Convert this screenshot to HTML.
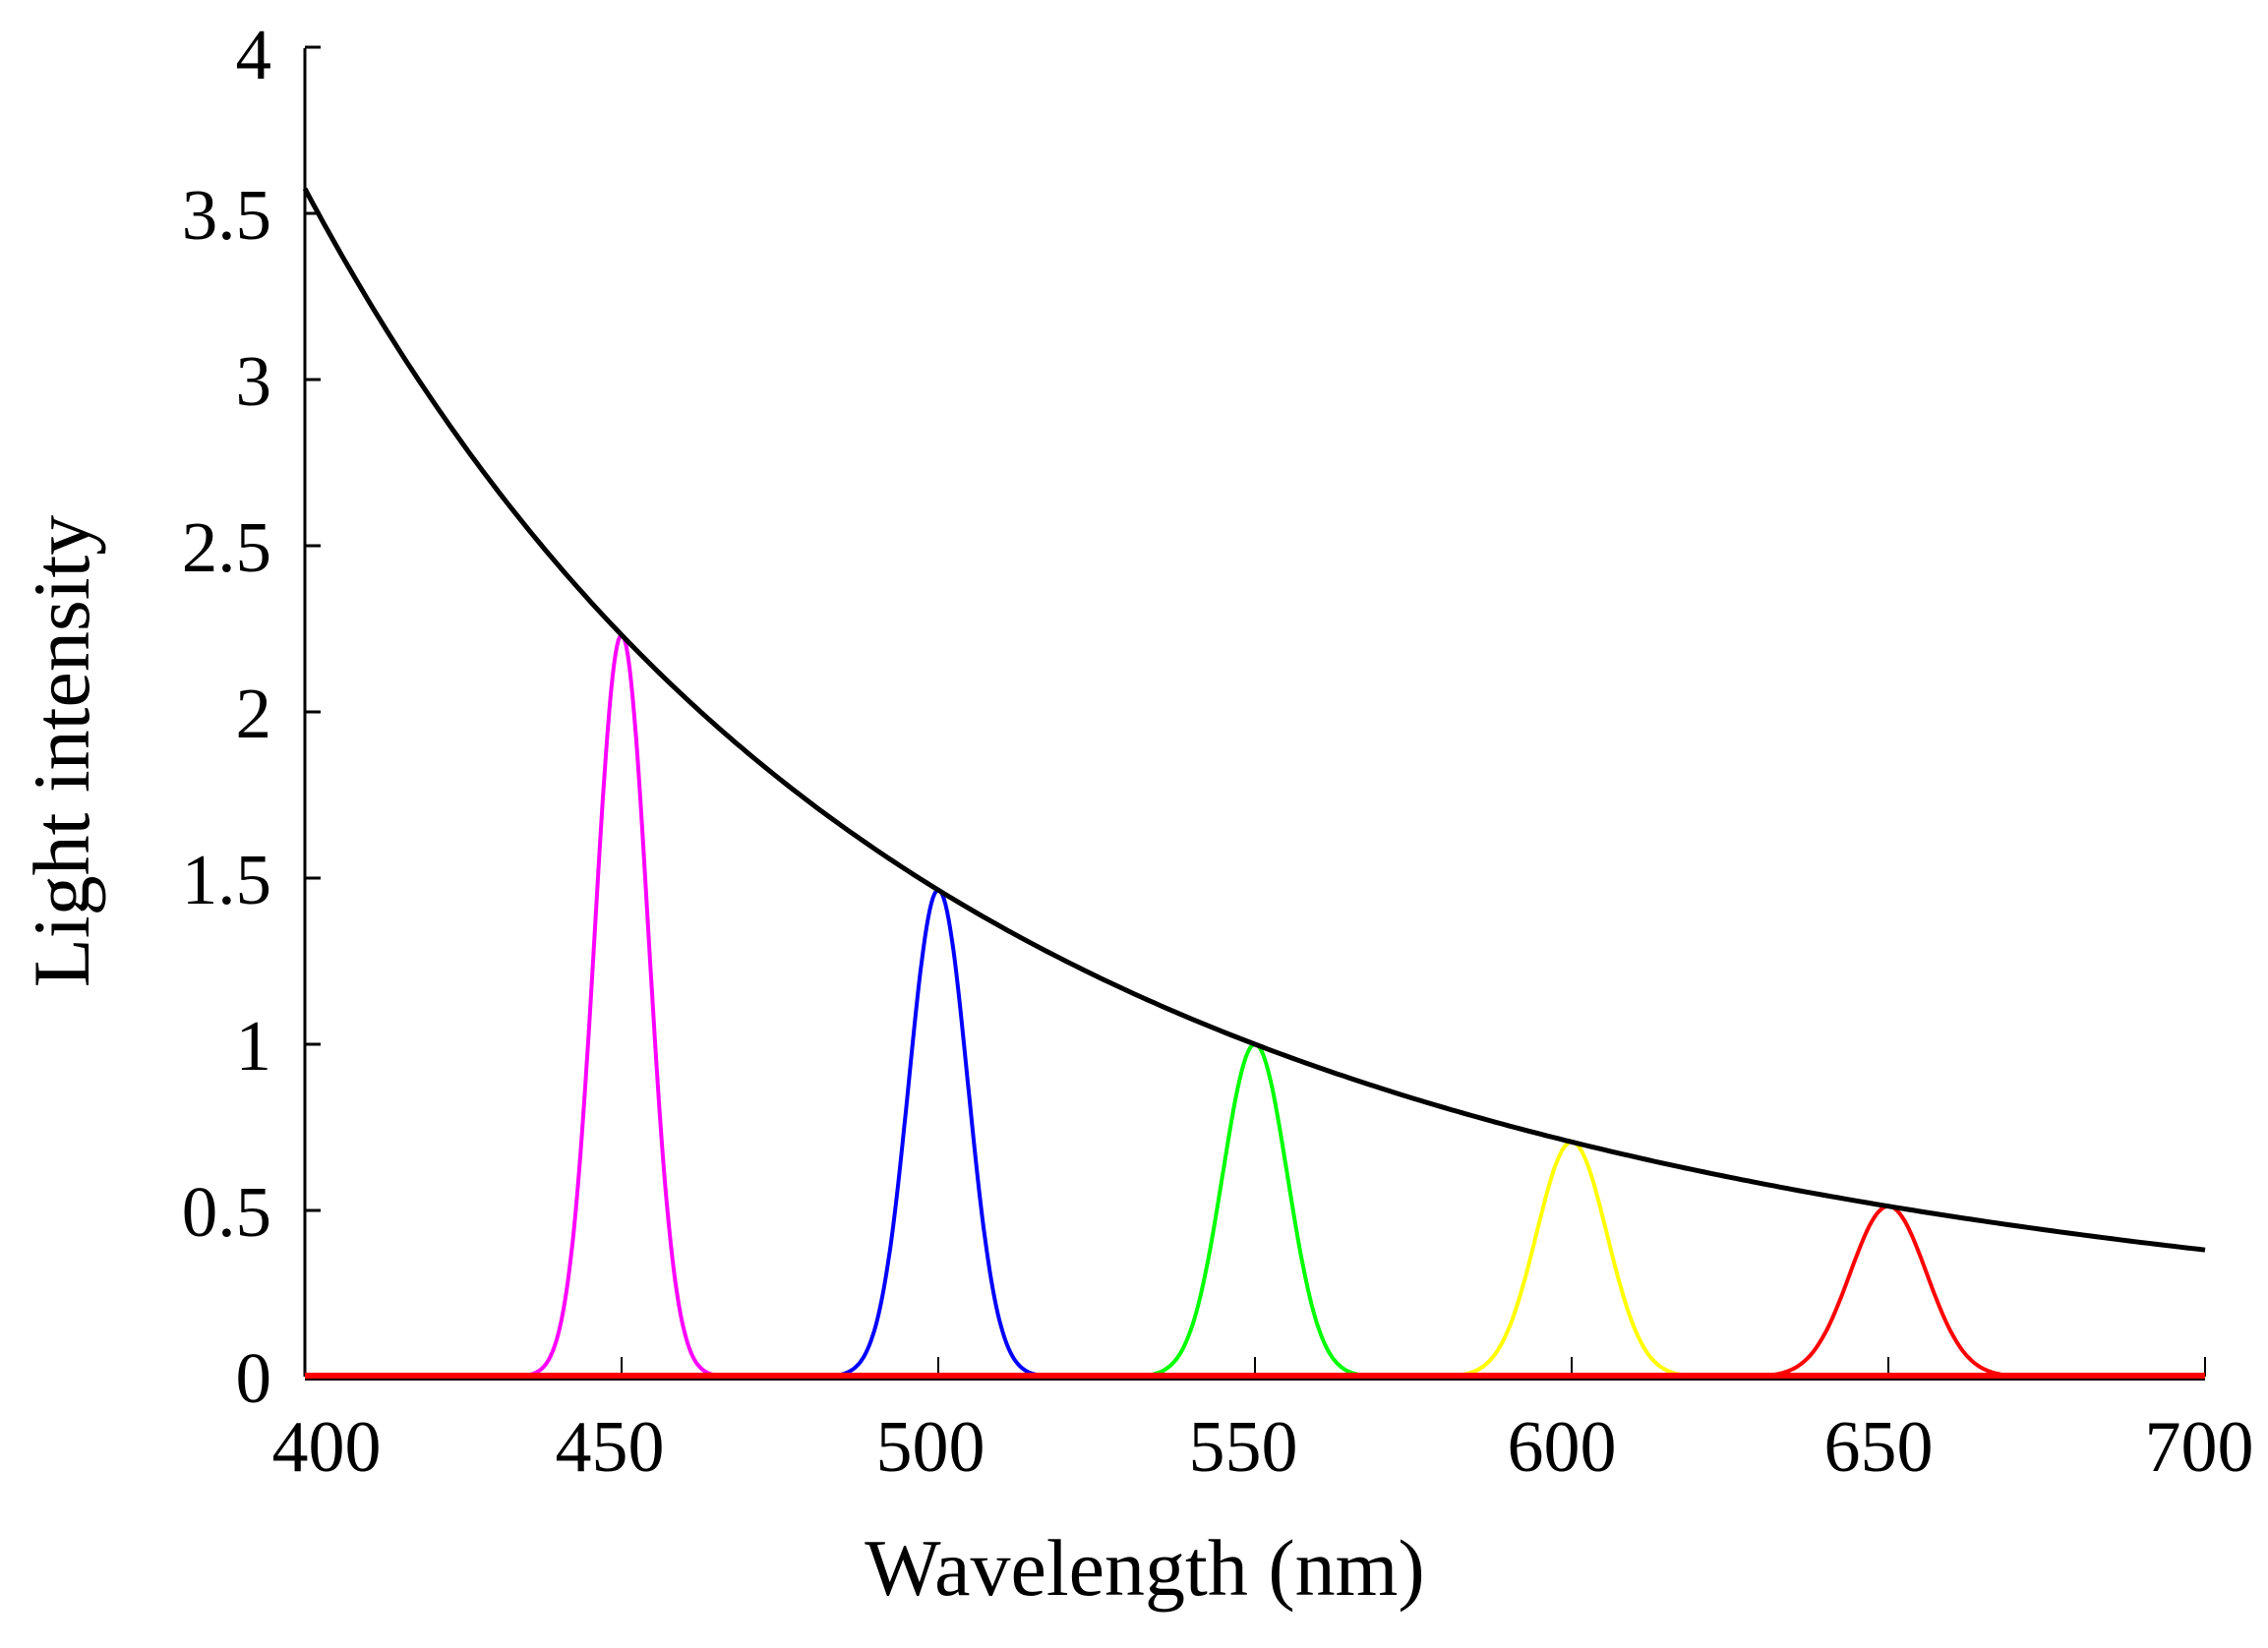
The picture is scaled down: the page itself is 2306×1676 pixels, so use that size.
<!DOCTYPE html>
<html><head><meta charset="utf-8"><style>
html,body{margin:0;padding:0;background:#fff;}
svg{display:block;}
text{font-family:"Liberation Serif",serif;fill:#000;}
</style></head><body>
<svg id="s" width="2306" height="1676" viewBox="0 0 2306 1676" xmlns="http://www.w3.org/2000/svg">
<g id="g"></g>
<g font-size="73" text-anchor="end">
<text x="276" y="1426">0</text>
<text x="276" y="1257">0.5</text>
<text x="276" y="1088">1</text>
<text x="276" y="919">1.5</text>
<text x="276" y="750">2</text>
<text x="276" y="581">2.5</text>
<text x="276" y="412">3</text>
<text x="276" y="243">3.5</text>
<text x="276" y="80">4</text>
</g>
<g font-size="74" text-anchor="middle">
<text x="332" y="1496">400</text>
<text x="620" y="1496">450</text>
<text x="946" y="1496">500</text>
<text x="1264" y="1496">550</text>
<text x="1588" y="1496">600</text>
<text x="1910" y="1496">650</text>
<text x="2236" y="1496">700</text>
</g>
<text x="1164" y="1622" font-size="82" text-anchor="middle">Wavelength (nm)</text>
<text transform="translate(90,764) rotate(-90)" font-size="82" text-anchor="middle">Light intensity</text>
</svg>
<script>
(function(){
var X0=310,X1=2242,Y0=1400,U=338;
function px(l){return X0+(l-400)/300*(X1-X0);}
function py(v){return Y0-v*U;}
var g=document.getElementById('g'),h='';
h+='<line x1="'+X0+'" y1="49" x2="'+X0+'" y2="'+Y0+'" stroke="#000" stroke-width="3"/>';
h+='<line x1="'+X0+'" y1="'+(Y0+2)+'" x2="'+X1+'" y2="'+(Y0+2)+'" stroke="#000" stroke-width="4"/>';
for(var i=0;i<=8;i++){var y=py(i/2);h+='<line x1="'+X0+'" y1="'+y+'" x2="'+(X0+16)+'" y2="'+y+'" stroke="#000" stroke-width="3"/>';}
for(var l=450;l<=700;l+=50){var x=px(l);h+='<line x1="'+x+'" y1="'+(Y0-20)+'" x2="'+x+'" y2="'+Y0+'" stroke="#000" stroke-width="2"/>';}
function f(l){return Math.pow(550/l,4);}
var cols={450:'#ff00ff',500:'#0000ff',550:'#00ff00',600:'#ffff00',650:'#ff0000'};
[450,500,550,600,650].forEach(function(c){
 var s=0.0093*c,a=f(c),d='';
 for(var l=c-4*s;l<=c+4*s;l+=0.25){var v=a*Math.exp(-Math.pow(l-c,2)/(2*s*s));d+=(d?'L':'M')+px(l).toFixed(1)+','+py(v).toFixed(1);}
 h+='<path d="'+d+'" fill="none" stroke="'+cols[c]+'" stroke-width="4"/>';
});
h+='<line x1="'+X0+'" y1="'+(Y0-1)+'" x2="'+X1+'" y2="'+(Y0-1)+'" stroke="#ff0000" stroke-width="6"/>';
var d='';for(var l=400;l<=700;l+=1){d+=(d?'L':'M')+px(l).toFixed(1)+','+py(f(l)).toFixed(1);}
h+='<path d="'+d+'" fill="none" stroke="#000" stroke-width="5"/>';
g.innerHTML=h;
})();
</script>
</body></html>
